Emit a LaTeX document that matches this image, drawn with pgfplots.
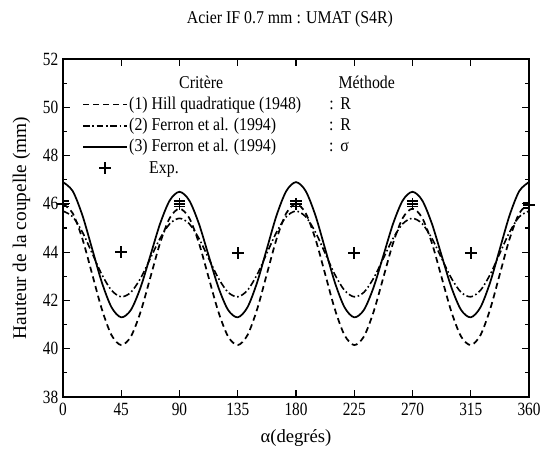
\documentclass[border=0pt]{standalone}
\usepackage{fontspec}
\setmainfont{Liberation Serif}
\newfontfamily\condA[FakeStretch=0.82]{Liberation Serif}
\newfontfamily\condB[FakeStretch=0.88]{Liberation Serif}
\usepackage{pgfplots}
\pgfplotsset{compat=1.18}
\pgfplotsset{
  legline/.style={legend image code/.code={\draw[##1] (0pt,0pt)--(33pt,0pt);}},
  explegend/.style={legend image code/.code={\draw[##1] plot coordinates {(16.5pt,0pt)};}}
}
\begin{document}
\begin{tikzpicture}
\useasboundingbox (-47.25pt,-43.5pt) rectangle (357.75pt,297.75pt);
\begin{axis}[
  at={(0,0)}, anchor=south west,
  scale only axis, width=349.5pt, height=253.5pt,
  xmin=0, xmax=360, ymin=38, ymax=52,
  xtick={0,45,...,360}, ytick={38,40,...,52},
  minor y tick num=1,
  tick align=inside, major tick length=5pt, minor tick length=3pt,
  axis line style={line width=1pt}, every tick/.style={line width=0.9pt, black},
  /pgf/number format/assume math mode=true,
  tick label style={font=\condA\fontsize{14}{16}\selectfont},
  xticklabel style={yshift=-1pt},
  xlabel={α(degrés)}, ylabel={Hauteur de la coupelle (mm)},
  xlabel style={font=\fontsize{14}{16}\selectfont, at={(0.5,0)}, anchor=north, yshift=-21pt},
  ylabel style={font=\fontsize{14.5}{16}\selectfont, at={(0,0.5)}, anchor=south, yshift=21pt},
  title={Acier IF 0.7 mm : UMAT (S4R)},
  title style={font=\condB\fontsize{13.5}{15}\selectfont, at={(0.487,1)}, anchor=base, yshift=20.5pt},
  legend style={draw=none, fill=none, at={(0.032,0.968)}, anchor=north west,
    font=\condB\fontsize{13.5}{15}\selectfont, row sep=0pt,
    nodes={inner xsep=1pt, inner ysep=1.25pt, text height=10.4pt, text depth=3pt}},
  legend cell align=left,
]
\addlegendimage{empty legend}
\addlegendentry{\makebox[157pt][l]{\hspace{37.5pt}Critère}Méthode}

\addplot[black, line width=1.3pt, dash pattern=on 4.5pt off 3pt, smooth, legline] coordinates {
(0,46.0)(7.5,45.612)(15,44.549)(22.5,43.096)(30,41.638)(37.5,40.561)(45,40.15)(52.5,40.509)(60,41.538)(67.5,42.954)(75,44.376)(82.5,45.418)(90,45.8)
(97.5,45.418)(105,44.376)(112.5,42.954)(120,41.538)(127.5,40.509)(135,40.15)(142.5,40.561)(150,41.638)(157.5,43.096)(165,44.549)(172.5,45.612)(180,46.0)
(187.5,45.612)(195,44.549)(202.5,43.096)(210,41.638)(217.5,40.561)(225,40.15)(232.5,40.509)(240,41.538)(247.5,42.954)(255,44.376)(262.5,45.418)(270,45.8)
(277.5,45.418)(285,44.376)(292.5,42.954)(300,41.538)(307.5,40.509)(315,40.15)(322.5,40.561)(330,41.638)(337.5,43.096)(345,44.549)(352.5,45.612)(360,46.0)};
\addlegendentry{\makebox[150pt][l]{(1) Hill quadratique (1948)}:\hspace{5pt}R}

\addplot[black, line width=1.2pt, dash pattern=on 5pt off 2pt on 1.2pt off 2pt, smooth, legline] coordinates {
(0,45.7)(7.5,45.467)(15,44.83)(22.5,43.956)(30,43.075)(37.5,42.417)(45,42.15)(52.5,42.339)(60,42.925)(67.5,43.744)(75,44.57)(82.5,45.177)(90,45.4)
(97.5,45.177)(105,44.57)(112.5,43.744)(120,42.925)(127.5,42.339)(135,42.15)(142.5,42.417)(150,43.075)(157.5,43.956)(165,44.83)(172.5,45.467)(180,45.7)
(187.5,45.467)(195,44.83)(202.5,43.956)(210,43.075)(217.5,42.417)(225,42.15)(232.5,42.339)(240,42.925)(247.5,43.744)(255,44.57)(262.5,45.177)(270,45.4)
(277.5,45.177)(285,44.57)(292.5,43.744)(300,42.925)(307.5,42.339)(315,42.15)(322.5,42.417)(330,43.075)(337.5,43.956)(345,44.83)(352.5,45.467)(360,45.7)};
\addlegendentry{\makebox[150pt][l]{(2) Ferron et al. (1994)}:\hspace{5pt}R}

\addplot[black, line width=1.3pt, smooth, legline] coordinates {
(0,46.9)(7.5,46.531)(15,45.523)(22.5,44.141)(30,42.75)(37.5,41.714)(45,41.3)(52.5,41.61)(60,42.55)(67.5,43.859)(75,45.177)(82.5,46.145)(90,46.5)
(97.5,46.145)(105,45.177)(112.5,43.859)(120,42.55)(127.5,41.61)(135,41.3)(142.5,41.714)(150,42.75)(157.5,44.141)(165,45.523)(172.5,46.531)(180,46.9)
(187.5,46.531)(195,45.523)(202.5,44.141)(210,42.75)(217.5,41.714)(225,41.3)(232.5,41.61)(240,42.55)(247.5,43.859)(255,45.177)(262.5,46.145)(270,46.5)
(277.5,46.145)(285,45.177)(292.5,43.859)(300,42.55)(307.5,41.61)(315,41.3)(322.5,41.714)(330,42.75)(337.5,44.141)(345,45.523)(352.5,46.531)(360,46.9)};
\addlegendentry{\makebox[150pt][l]{(3) Ferron et al. (1994)}:\hspace{5pt}σ}

\addplot[black, only marks, mark=+, mark size=4.4pt, line width=1.4pt, forget plot,
  error bars/.cd, y dir=both, y explicit,
  error mark options={rotate=90, mark size=4.2pt, line width=1pt},
  error bar style={line width=1pt}]
  coordinates {
(0,46.0) +- (0,0.12)
(45,44.0) +- (0,0)
(90,46.0) +- (0,0.12)
(135,43.95) +- (0,0)
(180,46.0) +- (0,0.12)
(225,43.95) +- (0,0)
(270,46.0) +- (0,0.12)
(315,43.95) +- (0,0)
(360,45.95) +- (0,0.12)};
\addlegendimage{black, only marks, mark=+, mark size=4.4pt, line width=1.4pt, explegend}
\addlegendentry{\hspace{15pt}Exp.}
\end{axis}
\end{tikzpicture}
\end{document}
